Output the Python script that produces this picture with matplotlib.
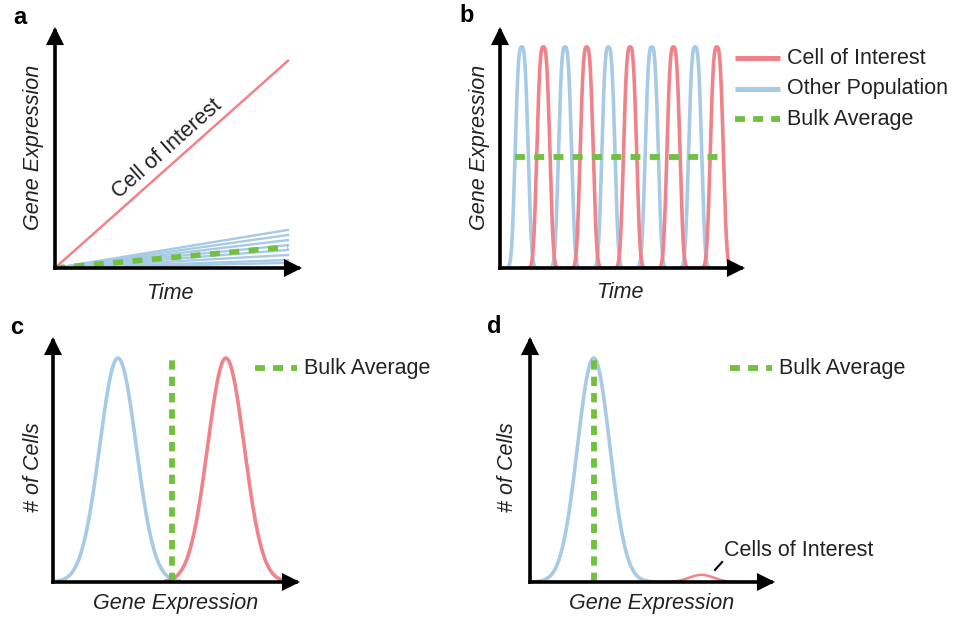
import numpy as np
import matplotlib.pyplot as plt

plt.rcParams['font.family'] = ['Liberation Sans', 'DejaVu Sans']

RED = '#F0828A'
BLUE = '#A7CAE6'
GREEN = '#72C040'
FS = 15.5

# panel a: end values of each line at time 10
a_time_end = 10
a_interest_end = 8.6
a_other_ends = [1.58, 1.37, 1.16, 0.95, 0.75, 0.54, 0.33, 0.21]
a_bulk_end = 0.87

# panel b: oscillating expression peaks
b_other_peaks = [1, 3, 5, 7, 9]
b_interest_peaks = [2, 4, 6, 8, 10]
b_peak_height = 1.0
b_peak_halfwidth = 0.31
b_peak_sharpness = 3.0
b_other_span = [0, 10.0]
b_interest_span = [1.0, 10.7]
b_bulk_level = 0.5
b_bulk_span = [0.7, 10.3]

# panel c: two populations
c_other = dict(center=2.63, height=1.0, width=0.74, span=[0, 5.15])
c_interest = dict(center=7.0, height=1.0, width=0.74, span=[4.5, 9.3])
c_bulk = 4.8

# panel d: one large population, rare cells of interest
d_other = dict(center=2.6, height=1.0, width=0.66, span=[0, 5.3])
d_interest = dict(center=7.0, height=0.032, width=0.5, span=[5.5, 8.6])
d_bulk = 2.6

W, H = 956, 619
fig = plt.figure(figsize=(W / 100, H / 100), dpi=100)


def px_axes(x0, y0, x1, y1):
    # axes from pixel box (origin at x0,y0 bottom-left; arrow tips at x1,y1)
    ax = fig.add_axes([x0 / W, 1 - y0 / H, (x1 - x0) / W, (y0 - y1) / H])
    for s in ax.spines.values():
        s.set_visible(False)
    ax.set_xticks([])
    ax.set_yticks([])
    ax.patch.set_alpha(0)
    for tip in [(1, 0), (0, 1)]:
        ax.annotate('', xy=tip, xytext=(0, 0), xycoords='axes fraction',
                    arrowprops=dict(arrowstyle='-|>', lw=2.6, color='black',
                                    mutation_scale=22, shrinkA=0, shrinkB=0,
                                    joinstyle='miter', capstyle='projecting'))
    return ax


def peak(ax, center, height, width, span, color, lw=2.6):
    x = np.linspace(span[0], span[1], 300)
    y = height * np.exp(-0.5 * ((x - center) / width) ** 2)
    ax.plot(x, y, color=color, lw=lw, solid_capstyle='butt')


def legend_entry(ax, x0, x1, y, text, color, dashed=False):
    if dashed:
        ax.plot([x0, x1], [y, y], color=color, lw=4.2, dashes=(1.7, 1.4),
                transform=ax.transAxes, clip_on=False)
    else:
        ax.plot([x0, x1], [y, y], color=color, lw=3.6,
                transform=ax.transAxes, clip_on=False, solid_capstyle='butt')
    ax.text(x1 + 0.03, y, text, transform=ax.transAxes, fontsize=FS,
            va='center', ha='left', color='#222222')


def labels(ax, xlabel, ylabel, xpos, ypos):
    ax.text(xpos[0], xpos[1], xlabel, transform=ax.transAxes, fontsize=FS,
            style='italic', ha='center', va='center', color='#222222')
    ax.text(ypos[0], ypos[1], ylabel, transform=ax.transAxes, fontsize=FS,
            style='italic', ha='center', va='center', rotation=90,
            color='#222222')


def wave(peaks, span):
    x = np.linspace(span[0], span[1], 1000)
    y = sum(b_peak_height * np.exp(-np.log(2) * np.abs((x - c) / b_peak_halfwidth)
                                   ** b_peak_sharpness) for c in peaks)
    return x, y


# ---- panel a
ax = px_axes(55, 268, 302, 27)
ax.set_xlim(0, 10.6)
ax.set_ylim(0, 10)
for end in a_other_ends:
    ax.plot([0, a_time_end], [0, end], color=BLUE, lw=1.7)
ax.plot([0, a_time_end], [0, a_bulk_end], color=GREEN, lw=4,
        dashes=(1.8, 1.7))
ax.plot([0, a_time_end], [0, a_interest_end], color=RED, lw=1.8)
ax.text(4.8, 4.95, 'Cell of Interest', fontsize=FS, rotation=41.6,
        rotation_mode='anchor', ha='center', va='center', color='#222222')
labels(ax, 'Time', 'Gene Expression', (0.466, -0.105), (-0.089, 0.5))

# ---- panel b
ax = px_axes(500, 268, 745, 27)
ax.set_xlim(0, 11.3)
ax.set_ylim(0, 1.09)
ax.plot(*wave(b_other_peaks, b_other_span), color=BLUE, lw=2.6)
ax.plot(*wave(b_interest_peaks, b_interest_span), color=RED, lw=2.6)
ax.plot(b_bulk_span, [b_bulk_level] * 2, color=GREEN, lw=4.2,
        dashes=(1.7, 1.6))
legend_entry(ax, 0.96, 1.143, 0.871, 'Cell of Interest', RED)
legend_entry(ax, 0.96, 1.143, 0.743, 'Other Population', BLUE)
legend_entry(ax, 0.96, 1.143, 0.618, 'Bulk Average', GREEN, dashed=True)
labels(ax, 'Time', 'Gene Expression', (0.49, -0.1), (-0.082, 0.5))

# ---- panel c
ax = px_axes(53, 582, 300, 337)
ax.set_xlim(0, 10)
ax.set_ylim(0, 1.094)
peak(ax, color=BLUE, **c_other)
peak(ax, color=RED, **c_interest)
ax.plot([c_bulk, c_bulk], [0, 1.0], color=GREEN, lw=4.2, dashes=(1.6, 1.2))
legend_entry(ax, 0.818, 0.988, 0.873, 'Bulk Average', GREEN, dashed=True)
labels(ax, 'Gene Expression', '# of Cells', (0.498, -0.086), (-0.08, 0.47))

# ---- panel d
ax = px_axes(530, 582, 775, 337)
ax.set_xlim(0, 10)
ax.set_ylim(0, 1.094)
peak(ax, color=BLUE, **d_other)
peak(ax, color=RED, lw=1.8, **d_interest)
ax.plot([d_bulk, d_bulk], [0, 1.0], color=GREEN, lw=4.2, dashes=(1.6, 1.2))
legend_entry(ax, 0.816, 0.988, 0.873, 'Bulk Average', GREEN, dashed=True)
ax.plot([7.55, 7.84], [0.054, 0.089], color='black', lw=1.5)
ax.text(7.9, 0.14, 'Cells of Interest', fontsize=FS, ha='left',
        va='center', color='#222222')
labels(ax, 'Gene Expression', '# of Cells', (0.498, -0.086), (-0.09, 0.468))

# panel letters
for letter, (px, py) in zip('abcd', [(20, 17), (467, 15), (17, 328), (494, 326)]):
    fig.text(px / W, 1 - py / H, letter, fontsize=17, fontweight='bold',
             ha='center', va='center')

fig.savefig('out.png', dpi=100)
